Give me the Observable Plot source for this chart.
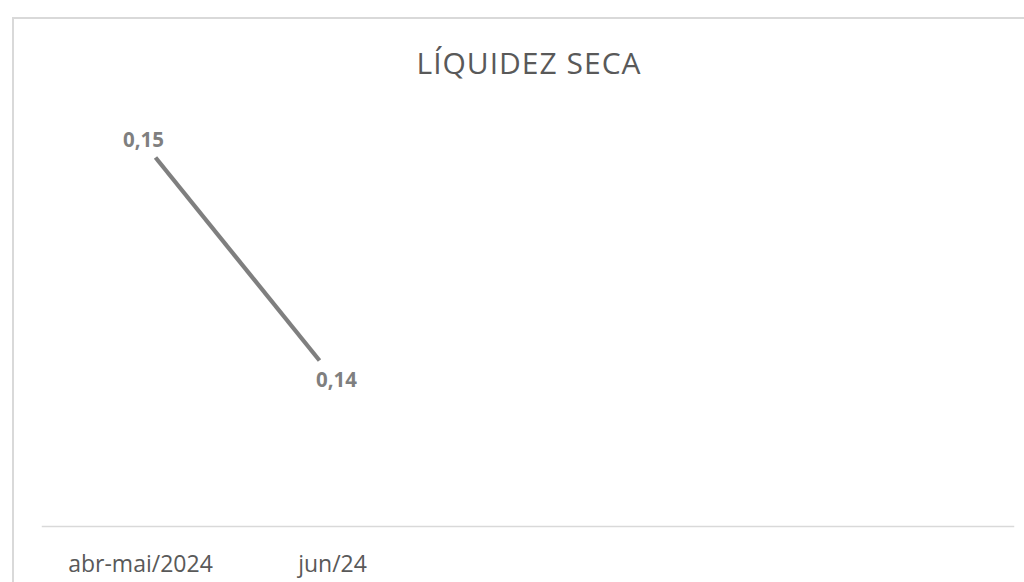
<!DOCTYPE html>
<html>
<head>
<meta charset="utf-8">
<script src="https://cdn.jsdelivr.net/npm/d3@7"></script>
<script src="https://cdn.jsdelivr.net/npm/@observablehq/plot@0.6"></script>
<style>
  html, body { margin: 0; padding: 0; background: #ffffff; }
  #wrap { position: relative; width: 1024px; height: 582px; overflow: hidden; font-family: "Open Sans", sans-serif; }
  #border { position: absolute; left: 12px; top: 17px; width: 1100px; height: 700px;
            border-left: 2px solid #d9d9d9; border-top: 2px solid #d9d9d9; }
  #title { position: absolute; left: 0; width: 1058px; top: 42px; text-align: center;
           font-size: 30px; letter-spacing: 1px; color: #595959; font-weight: 400; }
  #chart { position: absolute; left: 0; top: 0; }
</style>
</head>
<body>
<div id="wrap">
  <div id="border"></div>
  <div id="chart"></div>
  <div id="title">LÍQUIDEZ SECA</div>
</div>
<script>
const titleText = "LÍQUIDEZ SECA";
const categories = ["abr-mai/2024", "jun/24"];
const values = [0.15, 0.14];
const valueLabels = ["0,15", "0,14"];

const data = categories.map((c, i) => ({cat: c, v: values[i], label: valueLabels[i], i}));

const chart = Plot.plot({
  width: 1024,
  height: 582,
  marginLeft: 42,
  marginRight: 11,
  marginTop: 100,
  marginBottom: 56,
  style: {background: "transparent", fontFamily: "Open Sans, sans-serif"},
  x: {type: "point", domain: categories, range: [155, 319], padding: 0},
  y: {domain: d3.extent(values), range: [360, 157], axis: null},
  marks: [
    Plot.frame({anchor: "bottom", stroke: "#d9d9d9", strokeWidth: 1.5}),
    Plot.line(data, {x: "cat", y: "v", stroke: "#7f7f7f", strokeWidth: 4.25, strokeLinecap: "butt"}),
    Plot.text(data.filter(d => d.i === 0), {x: "cat", y: "v", text: "label", textAnchor: "middle", lineAnchor: "bottom",
      dx: -12, dy: -11, fill: "#7f7f7f", fontSize: 20.5, fontWeight: "bold"}),
    Plot.text(data.filter(d => d.i === 1), {x: "cat", y: "v", text: "label", textAnchor: "middle", lineAnchor: "bottom",
      dx: 17, dy: 26, fill: "#7f7f7f", fontSize: 20.5, fontWeight: "bold"}),
    Plot.axisX([categories[0]], {tickSize: 0, tickPadding: 29, dx: -15, fontSize: 23, color: "#595959", label: null}),
    Plot.axisX([categories[1]], {tickSize: 0, tickPadding: 29, dx: 13, fontSize: 23, color: "#595959", label: null})
  ]
});
document.getElementById("chart").appendChild(chart);
</script>
</body>
</html>
